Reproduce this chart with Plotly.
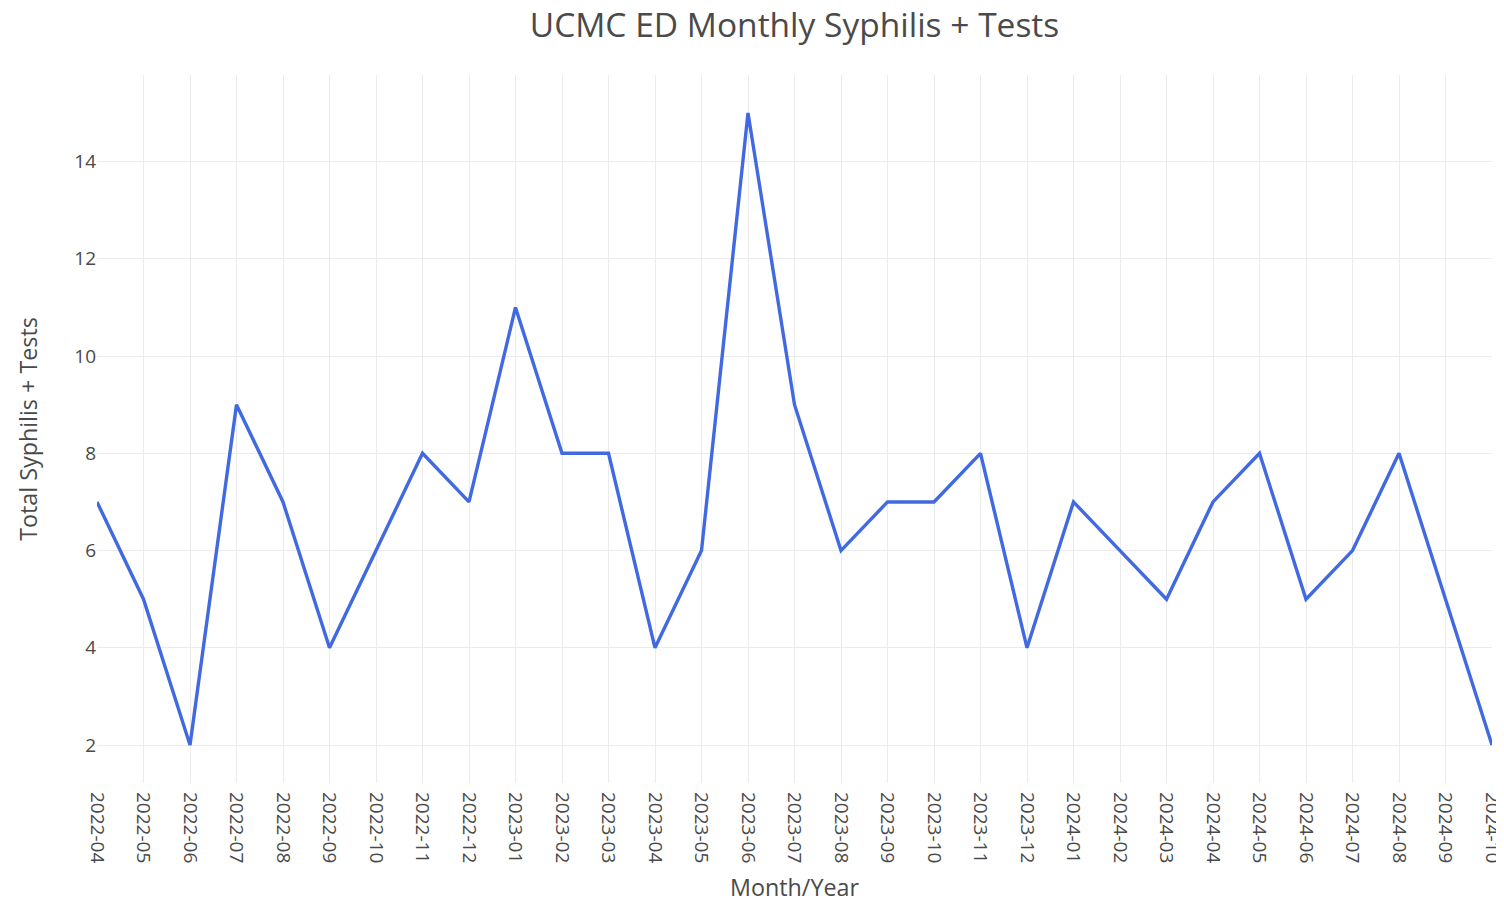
import plotly.graph_objects as go

months = ["2022-04","2022-05","2022-06","2022-07","2022-08","2022-09","2022-10","2022-11","2022-12",
          "2023-01","2023-02","2023-03","2023-04","2023-05","2023-06","2023-07","2023-08","2023-09",
          "2023-10","2023-11","2023-12","2024-01","2024-02","2024-03","2024-04","2024-05","2024-06",
          "2024-07","2024-08","2024-09","2024-10"]
positives = [7,5,2,9,7,4,6,8,7,11,8,8,4,6,15,9,6,7,7,8,4,7,6,5,7,8,5,6,8,5,2]

W, H = 1496, 895

fig = go.Figure(go.Scatter(x=months, y=positives, mode="lines",
                           line=dict(color="royalblue", width=3.4)))

fig.update_layout(
    template="plotly_white",
    width=W, height=H,
    margin=dict(l=89, r=12, t=67, b=120),
    font=dict(family="Open Sans", color="#4a4a4a"),
    title=dict(text="UCMC ED Monthly Syphilis + Tests", x=0.5, xref="paper", xanchor="center",
               y=1 - 17 / H, yref="container", yanchor="middle", font=dict(size=33.5)),
    showlegend=False,
)
fig.update_xaxes(type="category", tickangle=90, tickfont=dict(size=19), automargin=False,
                 ticklabelstandoff=8, gridcolor="#ebebeb",
                 title=dict(text="Month/Year", font=dict(size=23.3), standoff=32),
                 showline=False, zeroline=False)
fig.update_yaxes(range=[1.22, 15.78], dtick=2, tickfont=dict(size=19), automargin=False,
                 gridcolor="#ebebeb",
                 title=dict(text="Total Syphilis + Tests", font=dict(size=23.3), standoff=30),
                 zeroline=False)

fig.write_html("out.html")
